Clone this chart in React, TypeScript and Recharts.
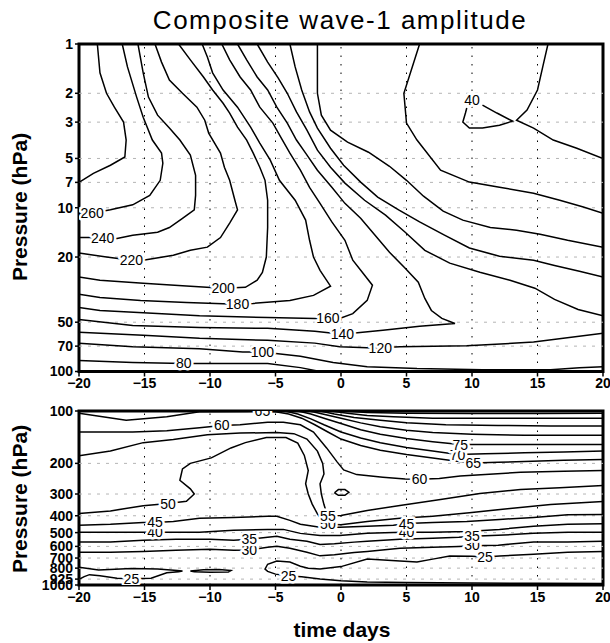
import React from "react";
import {
  ScatterChart,
  Scatter,
  XAxis,
  YAxis,
  ReferenceLine,
  ReferenceArea,
} from "recharts";

type Pt = [number, number];
type Tag = { x: number; y: number; t: string };

const FONT = "'Liberation Sans', Arial, Helvetica, sans-serif";

const dayTicks = [-20, -15, -10, -5, 0, 5, 10, 15, 20];
const upperTicks = [1, 2, 3, 5, 7, 10, 20, 50, 70, 100];
const lowerTicks = [100, 200, 300, 400, 500, 600, 700, 800, 925, 1000];

// ---- upper panel (1-100 hPa), points are [day, hPa]
const up280: Pt[] = [[-18.6, 1], [-18.4, 1.5], [-17.9, 2], [-17.3, 2.43], [-16.6, 3], [-16.4, 3.86], [-16.5, 4.9], [-17.6, 5.5], [-18.9, 6.16], [-20, 7]];
const up260: Pt[] = [[-16.7, 1], [-16.3, 1.38], [-15.6, 2.11], [-15.1, 2.8], [-14.4, 3.86], [-13.7, 4.64], [-13.6, 5.35], [-13.8, 6.8], [-14.6, 8.4], [-15.9, 9.6], [-17.6, 10.3], [-19, 10.8], [-20, 10.8]];
const up240: Pt[] = [[-15.5, 1], [-15.1, 1.5], [-14.7, 2.11], [-14, 2.72], [-13.1, 3.26], [-12.3, 3.86], [-11.5, 4.77], [-11.1, 6.34], [-11.1, 8.4], [-11.2, 10.3], [-12.1, 11.6], [-13.1, 13.2], [-14, 14.1], [-15.9, 14.7], [-17.1, 15.4], [-18.2, 15.4], [-19.2, 15.2], [-20, 15.2]];
const up220: Pt[] = [[-14.2, 1], [-13.7, 1.29], [-13.1, 1.66], [-12.1, 2], [-11, 2.43], [-10.4, 2.92], [-10.1, 3.5], [-9.2, 4.64], [-8.9, 5.66], [-8.5, 6.8], [-8.1, 9], [-7.9, 10.3], [-8.5, 12.4], [-9.2, 15.2], [-10.2, 17.4], [-11.5, 18.2], [-12.8, 19.5], [-15.1, 20.9], [-16, 20.9], [-17.9, 20], [-20, 18.9]];
const up200: Pt[] = [[-12.4, 1], [-11.5, 1.25], [-10.5, 1.59], [-9.8, 1.91], [-9, 2.3], [-8.5, 2.64], [-7.9, 3.22], [-7.2, 3.86], [-6.7, 4.64], [-6.2, 5.66], [-5.8, 6.8], [-5.6, 9], [-5.6, 13.2], [-5.7, 20], [-6, 24.8], [-6.4, 27.7], [-7.3, 30.6], [-9, 31], [-11.8, 30.1], [-15.1, 28.9], [-18.4, 27.7], [-20, 26.5]];
const up180: Pt[] = [[-10.6, 1], [-10.2, 1.2], [-9.8, 1.5], [-9, 1.91], [-7.9, 2.43], [-6.9, 3.22], [-6.2, 4.03], [-5.4, 5.12], [-4.7, 6.8], [-3.5, 9], [-2.7, 11.9], [-2.4, 15.8], [-2.1, 20], [-1.6, 24.1], [-0.8, 30.1], [-2.1, 34.3], [-3.9, 36.8], [-6.7, 38.4], [-7.9, 38.9], [-11.8, 37.9], [-15.3, 36.8], [-18.4, 35.3], [-20, 33.8]];
const up160: Pt[] = [[-9.1, 1], [-8.5, 1.25], [-7.7, 1.59], [-6.9, 1.91], [-6.2, 2.43], [-5.2, 3.04], [-4.6, 3.7], [-3.9, 4.64], [-3.1, 5.9], [-2.4, 7.5], [-1.6, 9.4], [-0.7, 12.2], [0.3, 15.8], [0.9, 20.9], [1.7, 25.2], [2.4, 29.7], [2, 36.8], [0.9, 44.3], [-0.1, 47.4], [-1, 47.4], [-2, 47.4], [-5.6, 46.8], [-10.8, 45.6], [-15.1, 43.7], [-18.4, 42.4], [-20, 40.6]];
const up140: Pt[] = [[-7.9, 1], [-7.2, 1.25], [-6.4, 1.59], [-5.6, 1.91], [-4.9, 2.43], [-4.1, 3.04], [-3.4, 3.86], [-2.7, 4.64], [-1.8, 5.9], [-0.7, 7.5], [0.3, 9.4], [1.5, 11.6], [2.6, 14.7], [3.7, 18.7], [4.9, 23.4], [5.9, 28.5], [6.4, 35.8], [6.9, 42.4], [7.7, 47.4], [8.7, 50.9], [6, 53], [3.2, 56], [0.1, 59.2], [-2, 56.8], [-5.6, 54.5], [-10.8, 53.8], [-15.9, 52.3], [-20, 48.1]];
const up120a: Pt[] = [[-6.4, 1], [-5.6, 1.29], [-4.8, 1.61], [-4.1, 2], [-3.4, 2.6], [-2.6, 3.36], [-1.8, 4.45], [-0.8, 5.66], [0.3, 7.07], [1.8, 9], [3.4, 11.1], [4.9, 14.1], [6.4, 18.2], [8.3, 21.8], [10.6, 24.8], [12.9, 27.7], [14.8, 31], [16.3, 36.3], [18.1, 41.8], [20, 45.6]];
const up100a: Pt[] = [[-3.9, 1], [-3.5, 1.38], [-3, 1.91], [-2.4, 2.6], [-1.8, 3.26], [-0.8, 4.33], [0.2, 5.5], [1.5, 6.97], [2.8, 8.6], [4.4, 10.3], [6, 12.2], [7.9, 14.7], [9.8, 17.6], [12.1, 19.8], [14.7, 20.9], [16.3, 22.5], [18.2, 24.4], [20, 26.5]];
const up80a: Pt[] = [[-1.8, 1], [-1.8, 2], [-1.5, 2.72], [-0.8, 3.36], [0.5, 3.97], [2.1, 4.58], [3.7, 5.58], [5, 6.8], [6.3, 8.5], [7.8, 10.5], [9.3, 11.9], [11.4, 13.2], [13.4, 13.7], [15.2, 14.5], [17.3, 15.8], [20, 17.4]];
const up60: Pt[] = [[6, 1], [4.8, 2], [5, 3.04], [5.8, 3.86], [7.6, 5.9], [9.8, 6.97], [12.1, 7.5], [14.7, 8.15], [16.7, 9], [18.5, 9.9], [20, 10.8]];
const up40a: Pt[] = [[15.8, 1], [15.4, 1.38], [15, 1.91], [14.2, 2.53], [13.4, 2.92], [14.7, 3.26], [16.2, 3.86], [18, 4.33], [20, 5]];
const up40b: Pt[] = [[10.8, 2.36], [11.9, 2.64], [13.1, 2.96], [12.1, 3.13], [10.8, 3.26], [9.8, 3.26], [9.3, 3], [9.5, 2.64], [9.6, 2.46]];
const up120b: Pt[] = [[-20, 57.6], [-15.1, 60.1], [-10.8, 62.7], [-5.6, 64.5], [-2, 67.1], [-0.1, 70.7], [2, 71.7], [3, 71.7], [4.5, 70.7], [9.6, 69.7], [14.7, 66.1], [20, 58.4]];
const up100b: Pt[] = [[-20, 67.1], [-15.9, 70.7], [-10.8, 72.7], [-7.5, 76.1], [-6, 76.1], [-3.1, 80.6], [-0.6, 88.1], [2, 93.4], [5.8, 96], [10.8, 97.4], [16, 97.4], [18.2, 94.7], [20, 93.4]];
const up80b: Pt[] = [[-20, 85.7], [-15.9, 88.1], [-12, 89.3], [-8.2, 89.3], [-5.6, 89.3], [-3.1, 94.7], [-1.6, 100]];

const upperLines = [up280, up260, up240, up220, up200, up180, up160, up140, up120a, up100a, up80a, up60, up40a, up40b, up120b, up100b, up80b];

const upperTags: Tag[] = [
  { x: -19, y: 10.8, t: "260" },
  { x: -18.2, y: 15.4, t: "240" },
  { x: -16, y: 20.9, t: "220" },
  { x: -9, y: 31, t: "200" },
  { x: -7.9, y: 38.9, t: "180" },
  { x: -1, y: 47.4, t: "160" },
  { x: 0.1, y: 59.2, t: "140" },
  { x: 3, y: 71.7, t: "120" },
  { x: -6, y: 76.1, t: "100" },
  { x: -12, y: 89.3, t: "80" },
  { x: 10, y: 2.2, t: "40" },
];

// ---- lower panel (100-1000 hPa)
const lo95: Pt[] = [[0.2, 100], [2, 102], [5, 103], [10, 103.5], [15, 103.5], [20, 103]];
const lo90: Pt[] = [[-0.8, 100], [0.5, 103], [2, 106], [4, 108], [7, 110], [11, 110], [15, 110], [20, 110]];
const lo85: Pt[] = [[-1.6, 100], [-0.5, 104], [1, 109], [3, 113], [5, 117], [8, 120], [12, 121], [16, 122], [20, 122]];
const lo80: Pt[] = [[-2.4, 100], [-1.4, 104], [0, 110], [1.5, 117], [3, 123], [5, 129], [7, 133], [10, 136], [14, 138], [17, 138], [20, 138]];
const lo75: Pt[] = [[-3.3, 100], [-2.3, 104], [-1.3, 110], [0, 118], [1.5, 128], [3, 136], [5, 144], [7, 150], [9.1, 156], [12, 156], [15, 156], [20, 156]];
const lo70: Pt[] = [[-4.3, 100], [-3.3, 104], [-2.3, 111], [-1.3, 120], [0, 132], [1.5, 143], [3, 152], [5, 162], [7, 170], [8.9, 178], [11, 176], [14, 174], [17, 172], [20, 170]];
const lo65: Pt[] = [[-20, 103], [-16.4, 113], [-13.3, 108], [-10.8, 101], [-7.2, 100.5], [-6, 100], [-5, 101], [-4, 104], [-3, 110], [-2, 120], [-1, 132], [0, 145], [1.5, 158], [3, 168], [5, 178], [7, 186], [8.7, 194], [10.1, 199], [12, 197], [14, 195], [17, 192], [20, 190]];
const lo60: Pt[] = [[-20, 132], [-15.9, 132], [-13.3, 130], [-10.8, 125], [-9.1, 121], [-7.7, 120], [-5.6, 116], [-4.4, 116], [-3.1, 120], [-2.1, 132], [-1.1, 163], [-0.3, 196], [0.2, 218], [1.2, 232], [3.2, 240], [4.9, 246], [6, 247], [7.5, 244], [9.1, 236], [13.7, 225], [17, 222], [20, 220]];
const lo55: Pt[] = [[-20, 181], [-17.6, 170], [-15.1, 152], [-12.8, 146], [-10.2, 137], [-7.7, 134], [-4.9, 133], [-3.6, 135], [-2.6, 145], [-1.8, 170], [-1.4, 200], [-1.3, 230], [-1.6, 262], [-1.5, 300], [-1.3, 345], [-1.1, 385], [-1, 400], [0, 398], [2, 373], [4.5, 349], [7.6, 323], [10.6, 298], [13.7, 283], [16.7, 276], [20, 268]];
const lo55ring: Pt[] = [[-0.5, 295], [-0.2, 283], [0.3, 283], [0.6, 293], [0.3, 305], [-0.2, 305], [-0.5, 295]];
const lo50: Pt[] = [[-20, 388], [-17.6, 375], [-15.1, 350], [-13.2, 340], [-11.8, 330], [-11.2, 300], [-11.5, 280], [-12.3, 250], [-12.1, 215], [-11.5, 200], [-9.9, 186], [-8.4, 163], [-7.3, 152], [-5.7, 142], [-4.2, 142], [-3.3, 153], [-2.8, 180], [-2.5, 220], [-2.7, 262], [-2.5, 300], [-2.2, 343], [-1.8, 390], [-1.4, 430], [-1, 448], [0, 450], [2, 431], [4.5, 414], [7, 403], [9.8, 384], [12.9, 363], [16, 345], [20, 331]];
const lo45: Pt[] = [[-20, 454], [-17.6, 448], [-15.1, 437], [-14.2, 437], [-12.8, 431], [-10.8, 414], [-8.2, 409], [-5.6, 403], [-4.9, 403], [-3.9, 425], [-3.1, 448], [-1.6, 466], [-0.1, 466], [2, 460], [4, 454], [5, 443], [7, 437], [9.6, 431], [12.1, 420], [14.7, 409], [17.3, 395], [20, 393]];
const lo40: Pt[] = [[-20, 498], [-17.6, 498], [-14.2, 498], [-12.8, 498], [-10.8, 498], [-8.2, 485], [-5.6, 479], [-4.4, 479], [-3.1, 505], [-1.6, 520], [-0.1, 520], [2, 505], [4, 500], [5, 498], [7, 498], [9.6, 492], [12.1, 479], [14.7, 460], [17.3, 448], [20, 445]];
const lo35: Pt[] = [[-20, 567], [-17.6, 567], [-15.1, 553], [-12.6, 546], [-10, 546], [-8.2, 553], [-7, 546], [-5.6, 532], [-4.9, 525], [-3.9, 546], [-2.6, 560], [-1.6, 585], [-0.5, 580], [1, 567], [2, 560], [4.5, 546], [7, 539], [9, 532], [10, 525], [12, 518], [14.7, 505], [17.3, 498], [20, 498]];
const lo30: Pt[] = [[-20, 649], [-17.6, 649], [-15.1, 641], [-12.6, 632], [-10, 624], [-8.2, 632], [-7, 630], [-5.6, 607], [-4.9, 598], [-3.9, 615], [-2.6, 649], [-1.6, 680], [-0.5, 670], [1, 650], [2, 641], [4.5, 615], [7, 607], [9, 600], [10, 595], [12, 590], [14.7, 567], [17.3, 567], [20, 560]];
const lo25west: Pt[] = [[-20, 790], [-18.5, 820], [-16, 805], [-14, 810], [-12.5, 825], [-12.1, 830], [-12.4, 838], [-13.3, 850], [-14.5, 915], [-16, 920], [-17.1, 915], [-18.4, 886], [-19.2, 872], [-19.6, 895], [-20, 928]];
const lo25ring: Pt[] = [[-11.5, 832], [-10.5, 818], [-9.3, 815], [-8.4, 825], [-8.6, 842], [-10, 845], [-11.2, 840], [-11.5, 832]];
const lo25east: Pt[] = [[20, 641], [17.3, 649], [14.7, 665], [12.1, 682], [11, 690], [10, 684], [8.3, 682], [7, 710], [5.8, 738], [4.5, 729], [2, 710], [0, 784], [-1.6, 810], [-2.5, 800], [-3.1, 780], [-3.9, 738], [-4.9, 729], [-5.6, 760], [-5.8, 810], [-5.6, 835], [-5, 866], [-4, 888], [-3, 898], [-1.6, 923], [0, 945], [2, 960], [5, 968], [10, 975], [15, 978], [20, 980]];

const lowerLines = [lo95, lo90, lo85, lo80, lo75, lo70, lo65, lo60, lo55, lo55ring, lo50, lo45, lo40, lo35, lo30, lo25west, lo25ring, lo25east];

// drawn in this order: the later label covers the one under it
const lowerTags: Tag[] = [
  { x: -16, y: 920, t: "25" },
  { x: -4, y: 890, t: "25" },
  { x: 11, y: 690, t: "25" },
  { x: -7, y: 630, t: "30" },
  { x: 10, y: 590, t: "30" },
  { x: -7, y: 546, t: "35" },
  { x: 10, y: 523, t: "35" },
  { x: -14.2, y: 498, t: "40" },
  { x: 5, y: 498, t: "40" },
  { x: -1, y: 448, t: "50" },
  { x: -14.2, y: 437, t: "45" },
  { x: 5, y: 443, t: "45" },
  { x: -1, y: 400, t: "55" },
  { x: -13.2, y: 340, t: "50" },
  { x: 6, y: 247, t: "60" },
  { x: 10.1, y: 199, t: "65" },
  { x: 8.9, y: 178, t: "70" },
  { x: 9.1, y: 156, t: "75" },
  { x: -9.1, y: 121, t: "60" },
  { x: -6, y: 100.5, t: "65" },
];

const upperGrid = [2, 3, 5, 7, 10, 20, 50, 70];
const lowerGrid = [200, 300, 400, 500, 600, 700, 800, 925];

const toRows = (pts: Pt[]) => pts.map(([x, y]) => ({ x, y }));
const fmtDay = (v: number) => String(v).replace("-", "\u2212");
const tickStyle = { fontSize: 14, fontWeight: 700, fill: "#000", fontFamily: FONT };

const NoDot = () => null;

function ContourTag(props: any) {
  const { cx, cy, payload } = props;
  if (cx == null || cy == null) return null;
  return (
    <text
      x={cx}
      y={cy}
      dy="0.36em"
      textAnchor="middle"
      fontSize={14}
      fontFamily={FONT}
      fill="#000"
      stroke="#fff"
      strokeWidth={5}
      strokeLinejoin="round"
      paintOrder="stroke"
    >
      {payload.t}
    </text>
  );
}

type PanelProps = {
  lines: Pt[][];
  tags: Tag[];
  domain: [number, number];
  ticks: number[];
  grid: number[];
  height: number;
  marginTop: number;
  marginBottom: number;
  axisHeight: number;
};

function Panel({ lines, tags, domain, ticks, grid, height, marginTop, marginBottom, axisHeight }: PanelProps) {
  return (
    <ScatterChart
      width={610}
      height={height}
      margin={{ top: marginTop, right: 7, bottom: marginBottom, left: 0 }}
    >
      <XAxis
        type="number"
        dataKey="x"
        domain={[-20, 20]}
        ticks={dayTicks}
        interval={0}
        allowDataOverflow
        axisLine={false}
        tickLine={{ stroke: "#000", strokeWidth: 1.5 }}
        tickSize={5}
        height={axisHeight}
        tick={tickStyle}
        tickFormatter={fmtDay}
      />
      <YAxis
        type="number"
        dataKey="y"
        scale="log"
        domain={domain}
        reversed
        ticks={ticks}
        interval={0}
        allowDataOverflow
        axisLine={false}
        tickLine={{ stroke: "#000", strokeWidth: 1.5 }}
        tickSize={4}
        width={79}
        tick={tickStyle}
      />
      {grid.map((p) => (
        <ReferenceLine key={`h${p}`} y={p} stroke="#b4b4b4" strokeDasharray="3 6" />
      ))}
      {dayTicks.slice(1, -1).map((d) => (
        <ReferenceLine key={`v${d}`} x={d} stroke="#000" strokeDasharray="1.5 7" />
      ))}
      {lines.map((l, i) => (
        <Scatter
          key={i}
          data={toRows(l)}
          fill="#000"
          line={{ stroke: "#000", strokeWidth: 1.5 }}
          shape={NoDot}
          isAnimationActive={false}
        />
      ))}
      <Scatter data={tags} shape={ContourTag} isAnimationActive={false} />
      <ReferenceArea
        x1={-20}
        x2={20}
        y1={domain[0]}
        y2={domain[1]}
        fill="none"
        stroke="#000"
        strokeWidth={3}
      />
    </ScatterChart>
  );
}

export default function App() {
  return (
    <div style={{ position: "absolute", left: 0, top: 0, width: 610, height: 643, background: "#fff" }}>
      <div style={{ position: "absolute", left: 0, top: 0 }}>
        <Panel
          lines={upperLines}
          tags={upperTags}
          domain={[1, 100]}
          ticks={upperTicks}
          grid={upperGrid}
          height={400}
          marginTop={44}
          marginBottom={0}
          axisHeight={28.5}
        />
      </div>
      <div style={{ position: "absolute", left: 0, top: 380 }}>
        <Panel
          lines={lowerLines}
          tags={lowerTags}
          domain={[100, 1000]}
          ticks={lowerTicks}
          grid={lowerGrid}
          height={240}
          marginTop={31}
          marginBottom={10}
          axisHeight={25}
        />
      </div>
      <svg
        width={610}
        height={643}
        style={{ position: "absolute", left: 0, top: 0, pointerEvents: "none" }}
        fontFamily={FONT}
      >
        <text x={340} y={29} textAnchor="middle" fontSize={26} letterSpacing={1.5}>
          Composite wave-1 amplitude
        </text>
        <text transform="translate(27,207) rotate(-90)" textAnchor="middle" fontSize={21} fontWeight={700}>
          Pressure (hPa)
        </text>
        <text transform="translate(27,499) rotate(-90)" textAnchor="middle" fontSize={21} fontWeight={700}>
          Pressure (hPa)
        </text>
        <text x={342} y={637} textAnchor="middle" fontSize={21} fontWeight={700}>
          time days
        </text>
      </svg>
    </div>
  );
}
